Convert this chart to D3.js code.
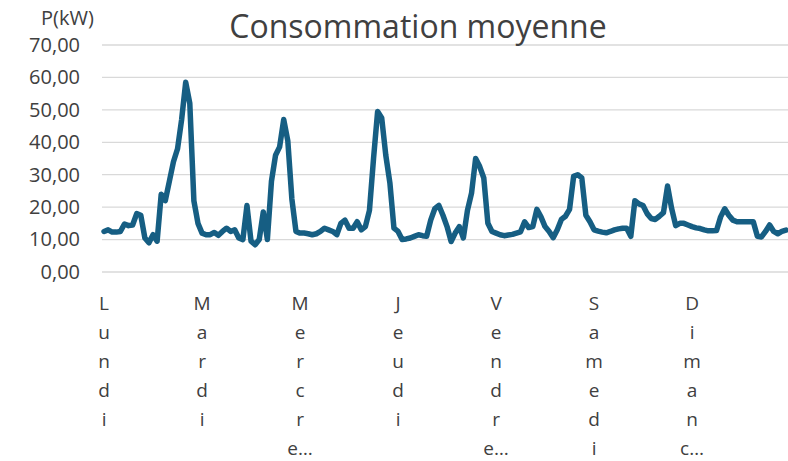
<!DOCTYPE html>
<html>
<head>
<meta charset="utf-8">
<script src="https://cdn.jsdelivr.net/npm/d3@7"></script>
<style>
	body { margin:0; background:#fff; }
	text { font-family: 'Open Sans', 'Noto Sans', sans-serif; fill:#404040; }
</style>
</head>
<body>
<svg id="chart" width="788" height="461"></svg>
<script>

var title = 'Consommation moyenne';
var yTitle = 'P(kW)';
var days = ['Lundi', 'Mardi', 'Mercredi', 'Jeudi', 'Vendredi', 'Samedi', 'Dimanche'];
var yTicks = [0, 10, 20, 30, 40, 50, 60, 70];

// puissance moyenne horaire, 24 valeurs par jour
var lundi = [12.5, 13, 12.3, 12.3, 12.5, 14.8, 14.3, 14.5, 18, 17.5, 10.5, 9, 11.5, 9.5, 24, 22, 28, 34, 38, 47, 58.5, 52, 22, 15];
var mardi = [12, 11.5, 11.5, 12.2, 11.3, 12.5, 13.5, 12.5, 13, 10.5, 10, 20.5, 9.5, 8.4, 10, 18.5, 10, 28, 36, 38.6, 47, 40.5, 22.5, 12.5];
var mercredi = [12, 12, 11.8, 11.5, 11.8, 12.5, 13.5, 13, 12.5, 11.5, 15, 16, 13.5, 13.5, 15.5, 13, 14, 19, 35, 49.5, 47.5, 36, 27.5, 13.5];
var jeudi = [12.5, 10, 10.2, 10.5, 11, 11.5, 11.2, 11, 16, 19.5, 20.5, 17.5, 14, 9.4, 12, 14, 10.5, 19, 24.3, 35, 32.5, 29, 15, 12.5];
var vendredi = [12, 11.5, 11.2, 11.4, 11.6, 12, 12.4, 15.5, 13.7, 14, 19.3, 17, 14, 12.5, 10.6, 13, 16.2, 17.2, 19.3, 29.5, 30, 29, 17.5, 15.5];
var samedi = [13, 12.6, 12.3, 12.1, 12.5, 13, 13.3, 13.5, 13.5, 11, 22, 21, 20.5, 18, 16.5, 16.2, 17.2, 18.3, 26.5, 19.6, 14.3, 15, 15, 14.5];
var dimanche = [14, 13.6, 13.4, 13, 12.7, 12.7, 12.8, 17, 19.5, 17.5, 16, 15.5, 15.5, 15.5, 15.5, 15.5, 11, 10.8, 12.5, 14.5, 12.5, 11.8, 12.5, 12.9];

var values = [].concat(lundi, mardi, mercredi, jeudi, vendredi, samedi, dimanche);

var margin = {top:45, right:0, bottom:189, left:102};
var width = 788 - margin.left - margin.right;
var height = 461 - margin.top - margin.bottom;

var svg = d3.select('#chart');

svg.append('rect')
	.attr('width', 788)
	.attr('height', 461)
	.attr('fill', '#fff');

var g = svg.append('g')
	.attr('transform', `translate(${margin.left},${margin.top})`);

var x = d3.scaleLinear()
	.domain([0, values.length])
	.range([0, width]);

var y = d3.scaleLinear()
	.domain([0, 70])
	.range([height, 0]);

var fr = d3.formatLocale({decimal:',', thousands:' ', grouping:[3], currency:['', ' €']});

// grille
g.selectAll('.grid')
	.data(yTicks)
	.enter()
	.append('line')
	.attr('class', 'grid')
	.attr('x1', 0)
	.attr('x2', width)
	.attr('y1', d => y(d))
	.attr('y2', d => y(d))
	.attr('stroke', '#d9d9d9')
	.attr('stroke-width', 1.3);

var yAxis = g.append('g')
	.call(d3.axisLeft(y).tickValues(yTicks).tickFormat(fr.format('.2f')).tickSize(0).tickPadding(22));

yAxis.select('.domain').remove();
yAxis.selectAll('text')
	.style('font-size', '20px')
	.attr('fill', '#404040');

// courbe
var line = d3.line()
	.x((d, i) => x(i + 0.5))
	.y(d => y(d));

g.append('path')
	.datum(values)
	.attr('d', line)
	.attr('fill', 'none')
	.attr('stroke', '#165E83')
	.attr('stroke-width', 5.5)
	.attr('stroke-linejoin', 'round')
	.attr('stroke-linecap', 'round');

// étiquettes des jours, une lettre par ligne comme dans Excel
var maxLines = 6;

var dayLabel = g.selectAll('.day')
	.data(days)
	.enter()
	.append('text')
	.attr('class', 'day')
	.attr('text-anchor', 'middle')
	.style('font-size', '19px')
	.attr('transform', (d, i) => `translate(${x(i * 24 + 0.5)},${height + 38})`);

dayLabel.selectAll('tspan')
	.data(d => {
		var chars = d.split('');
		if (chars.length > maxLines) {
			chars = chars.slice(0, maxLines);
			chars[maxLines - 1] = chars[maxLines - 1] + '…';
		}
		return chars;
	})
	.enter()
	.append('tspan')
	.attr('x', 0)
	.attr('y', (d, i) => i * 28.9)
	.text(d => d);

svg.append('text')
	.attr('x', 418)
	.attr('y', 38)
	.attr('text-anchor', 'middle')
	.style('font-size', '32px')
	.text(title);

svg.append('text')
	.attr('x', 41)
	.attr('y', 25)
	.style('font-size', '20px')
	.text(yTitle);

</script>
</body>
</html>
